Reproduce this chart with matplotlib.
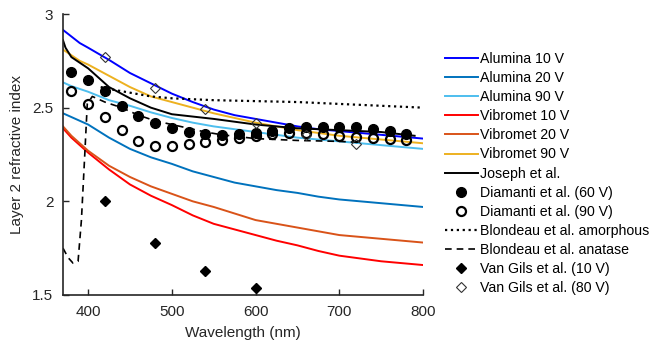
import matplotlib
matplotlib.use('Agg')
import matplotlib.pyplot as plt

plt.rcParams['font.family'] = ['Liberation Sans', 'DejaVu Sans']

# wavelength grid for the model curves (nm)
wl = [370, 380, 390, 400, 425, 450, 475, 500, 525, 550, 575, 600, 625, 650, 675, 700, 725, 750, 775, 800]

alumina_10 = [2.915, 2.88, 2.845, 2.82, 2.755, 2.685, 2.63, 2.575, 2.53, 2.49, 2.46, 2.44, 2.42, 2.40,
              2.385, 2.375, 2.365, 2.355, 2.345, 2.335]
alumina_20 = [2.47, 2.45, 2.43, 2.41, 2.34, 2.28, 2.235, 2.20, 2.16, 2.13, 2.10, 2.08, 2.06, 2.045,
              2.025, 2.01, 2.00, 1.99, 1.98, 1.97]
alumina_90 = [2.635, 2.615, 2.60, 2.585, 2.54, 2.51, 2.475, 2.445, 2.42, 2.40, 2.385, 2.37, 2.355, 2.34,
              2.33, 2.32, 2.31, 2.30, 2.29, 2.28]
vibromet_10 = [2.39, 2.34, 2.30, 2.26, 2.17, 2.09, 2.03, 1.98, 1.925, 1.88, 1.85, 1.82, 1.79, 1.765,
               1.735, 1.71, 1.695, 1.68, 1.67, 1.66]
vibromet_20 = [2.40, 2.35, 2.31, 2.27, 2.19, 2.13, 2.08, 2.04, 2.00, 1.97, 1.935, 1.90, 1.88, 1.86,
               1.84, 1.82, 1.81, 1.80, 1.79, 1.78]
vibromet_90 = [2.81, 2.78, 2.75, 2.73, 2.67, 2.61, 2.56, 2.53, 2.50, 2.47, 2.445, 2.42, 2.40, 2.38,
               2.365, 2.35, 2.34, 2.33, 2.32, 2.31]

joseph_wl = [370, 373, 380, 390, 400, 425, 450, 475, 500, 550, 600, 650, 700, 750, 790]
joseph = [2.86, 2.82, 2.77, 2.74, 2.71, 2.61, 2.55, 2.50, 2.465, 2.44, 2.41, 2.39, 2.38, 2.37, 2.35]

diam_wl = [380, 400, 420, 440, 460, 480, 500, 520, 540, 560, 580, 600, 620, 640, 660, 680, 700, 720, 740, 760, 780]
diam_60 = [2.69, 2.65, 2.59, 2.51, 2.455, 2.42, 2.39, 2.37, 2.36, 2.355, 2.36, 2.365, 2.375, 2.39, 2.395,
           2.395, 2.395, 2.395, 2.385, 2.375, 2.36]
diam_90 = [2.59, 2.52, 2.45, 2.38, 2.32, 2.295, 2.295, 2.305, 2.315, 2.33, 2.34, 2.35, 2.36, 2.365, 2.365,
           2.36, 2.35, 2.345, 2.34, 2.335, 2.33]

amorph_wl = [415, 425, 450, 475, 500, 550, 600, 650, 700, 750, 800]
amorph = [2.61, 2.60, 2.58, 2.56, 2.55, 2.54, 2.535, 2.53, 2.52, 2.51, 2.50]

anatase_wl = [370, 376, 382, 388, 392, 396, 399, 405, 420, 440, 460, 480, 500, 520, 540, 560, 580, 600,
              650, 700, 722]
anatase = [1.75, 1.70, 1.67, 1.68, 1.90, 2.25, 2.52, 2.56, 2.53, 2.50, 2.46, 2.43, 2.41, 2.39, 2.37, 2.355,
           2.345, 2.335, 2.325, 2.32, 2.315]

gils_10_wl = [420, 480, 540, 600]
gils_10 = [2.00, 1.78, 1.63, 1.535]
gils_80_wl = [420, 480, 540, 600, 660, 720]
gils_80 = [2.77, 2.605, 2.495, 2.42, 2.355, 2.305]

fig = plt.figure(figsize=(6.52, 3.45), dpi=100)
ax = fig.add_axes([63 / 652, 1 - 295 / 345, 360 / 652, 281 / 345])

lw = 1.4
ax.plot(wl, alumina_10, color='#0000FF', lw=lw, label='Alumina 10 V')
ax.plot(wl, alumina_20, color='#0072BD', lw=lw, label='Alumina 20 V')
ax.plot(wl, alumina_90, color='#4DBEEE', lw=lw, label='Alumina 90 V')
ax.plot(wl, vibromet_10, color='#FF0000', lw=lw, label='Vibromet 10 V')
ax.plot(wl, vibromet_20, color='#D95319', lw=lw, label='Vibromet 20 V')
ax.plot(wl, vibromet_90, color='#EDB120', lw=lw, label='Vibromet 90 V')
ax.plot(joseph_wl, joseph, color='black', lw=lw, label='Joseph et al.')
ax.plot(diam_wl, diam_60, 'o', color='black', ms=7, label='Diamanti et al. (60 V)')
ax.plot(diam_wl, diam_90, 'o', mfc='none', mec='black', mew=1.6, ms=6.5,
        label='Diamanti et al. (90 V)')
ax.plot(amorph_wl, amorph, ':', color='black', lw=1.6, label='Blondeau et al. amorphous')
ax.plot(anatase_wl, anatase, '--', color='black', lw=1.2, dashes=(4, 3),
        label='Blondeau et al. anatase')
ax.plot(gils_10_wl, gils_10, 'D', color='black', ms=5.5, label='Van Gils et al. (10 V)')
ax.plot(gils_80_wl, gils_80, 'D', mfc='none', mec='#333333', mew=0.8, ms=5.5,
        label='Van Gils et al. (80 V)')

ax.set_xlim(370, 800)
ax.set_ylim(1.5, 3)
ax.set_xticks([400, 500, 600, 700, 800])
ax.set_yticks([1.5, 2, 2.5, 3])
ax.set_yticklabels(['1.5', '2', '2.5', '3'])
for s in ['top', 'right']:
    ax.spines[s].set_visible(False)
for s in ['left', 'bottom']:
    ax.spines[s].set_linewidth(1.2)
    ax.spines[s].set_color('#262626')
ax.tick_params(direction='in', length=4, width=1.0, pad=7, labelsize=11,
               colors='#262626')
ax.set_xlabel('Wavelength (nm)', fontsize=11, color='#262626', labelpad=5)
ax.set_ylabel('Layer 2 refractive index', fontsize=11, color='#262626', labelpad=6)

ax.legend(loc='upper left', bbox_to_anchor=(445 / 652, 1 - 52 / 345),
          bbox_transform=fig.transFigure, frameon=False, fontsize=10.2,
          handlelength=2.3, handletextpad=0.15, labelspacing=0.36,
          borderpad=0, borderaxespad=0, numpoints=1)

fig.savefig('out.png', dpi=100)
